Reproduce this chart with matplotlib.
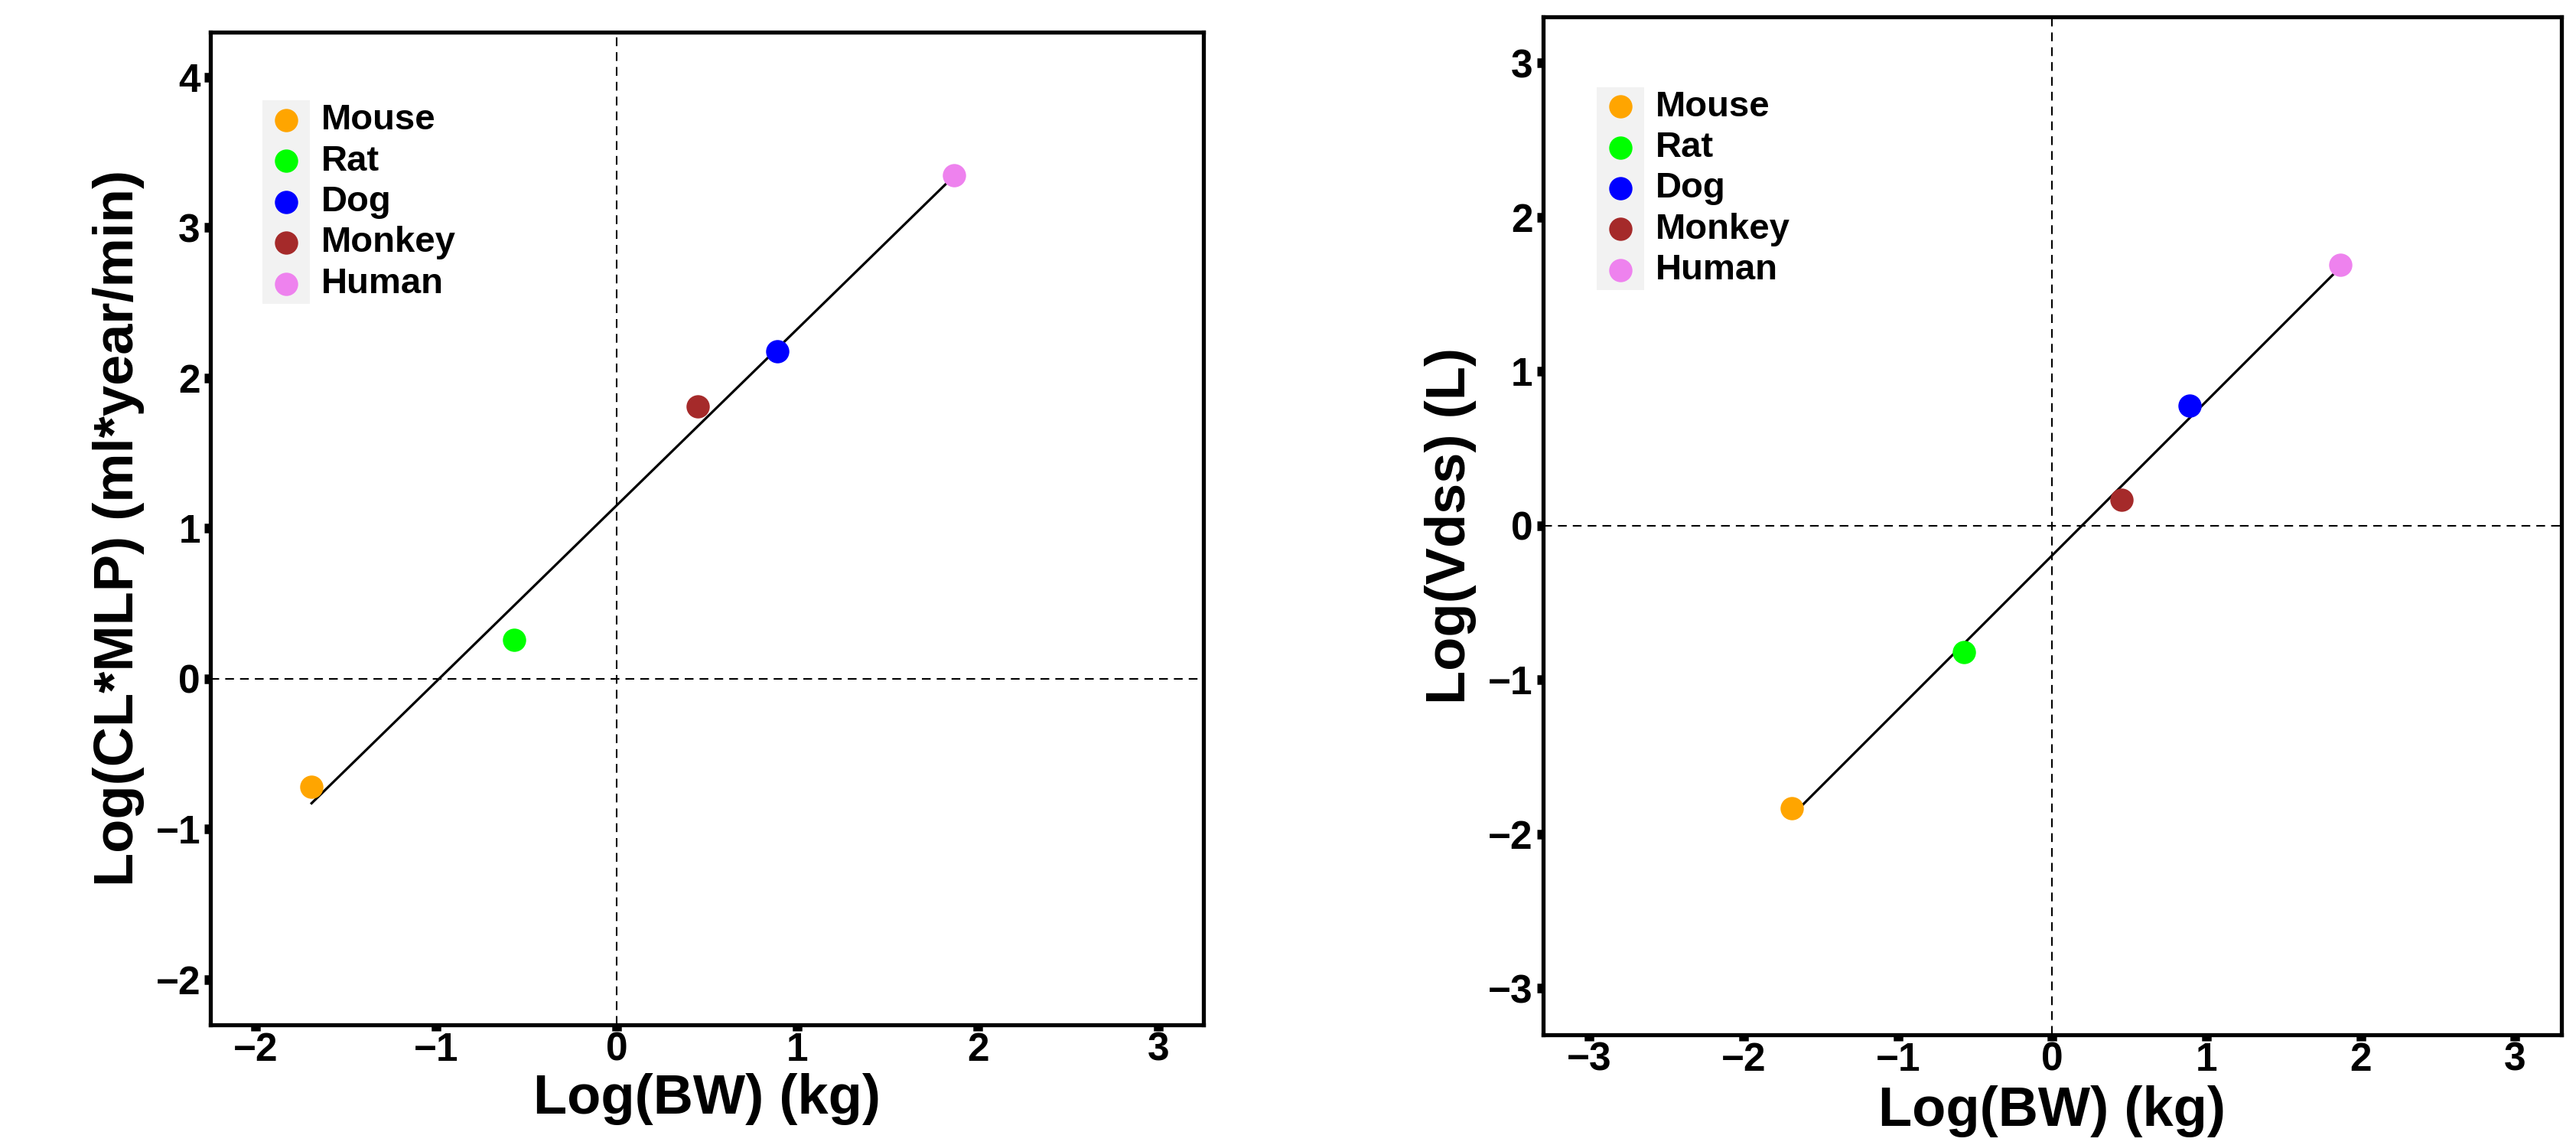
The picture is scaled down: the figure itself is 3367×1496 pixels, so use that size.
import matplotlib
matplotlib.use("Agg")
import matplotlib.pyplot as plt
from matplotlib.patches import Rectangle
import numpy as np

plt.rcParams['font.family'] = ['Liberation Sans', 'DejaVu Sans']
plt.rcParams['font.weight'] = 'bold'

species = ["Mouse", "Rat", "Dog", "Monkey", "Human"]
colors = ["#FFA500", "#00FF00", "#0000FF", "#A52A2A", "#EE82EE"]
log_bw = [-1.69, -0.57, 0.89, 0.45, 1.87]
log_cl_mlp = [-0.72, 0.26, 2.18, 1.81, 3.35]
log_vdss = [-1.83, -0.82, 0.78, 0.17, 1.69]

fig = plt.figure(figsize=(33.67, 14.96), dpi=100)
ax1 = fig.add_axes([0.0817, 0.105, 0.3855, 0.867])
ax2 = fig.add_axes([0.599, 0.0963, 0.3953, 0.889])

leg_fs = 34
hlen = 1.15


def panel(ax, y, ylabel, xlim, ylim, xticks, yticks, ylab_x):
    ax.axhline(0, color="black", lw=1.5, ls=(0, (5.5, 3.8)), zorder=1)
    ax.axvline(0, color="black", lw=1.5, ls=(0, (5.5, 3.8)), zorder=1)
    # linear fit across the observed range
    k, b = np.polyfit(log_bw, y, 1)
    xs = np.array([min(log_bw), max(log_bw)])
    ax.plot(xs, k * xs + b, color="black", lw=2.3, zorder=2)
    for name, c, xv, yv in zip(species, colors, log_bw, y):
        ax.scatter([xv], [yv], s=480, color=c, label=name, zorder=3, linewidths=0)
    ax.set_xlim(xlim)
    ax.set_ylim(ylim)
    ax.set_xticks(xticks)
    ax.set_yticks(yticks)
    for s in ax.spines.values():
        s.set_linewidth(3.8)
    ax.tick_params(width=9, length=5.5, labelsize=37, pad=4)
    ax.tick_params(axis="x", pad=1)
    for lab in ax.get_xticklabels() + ax.get_yticklabels():
        lab.set_fontweight("bold")
    ax.set_xlabel("Log(BW) (kg)", fontsize=52, fontweight="bold", va="center")
    ax.xaxis.set_label_coords(0.5, -0.075)
    ax.set_ylabel(ylabel, fontsize=52, fontweight="bold", va="center")
    ax.yaxis.set_label_coords(ylab_x, 0.5)
    leg = ax.legend(loc="upper left", bbox_to_anchor=(0.0525, 0.931),
                    frameon=False, fontsize=leg_fs, borderpad=0.08,
                    borderaxespad=0, handlelength=hlen, handletextpad=0.4,
                    labelspacing=0.2, scatterpoints=1, markerscale=1.0,
                    prop={"weight": "bold", "size": leg_fs})
    return leg


leg1 = panel(ax1, log_cl_mlp, "Log(CL*MLP) (ml*year/min)", (-2.25, 3.25), (-2.3, 4.3),
             [-2, -1, 0, 1, 2, 3], [-2, -1, 0, 1, 2, 3, 4], -0.0925)
leg2 = panel(ax2, log_vdss, "Log(Vdss) (L)", (-3.3, 3.3), (-3.3, 3.3),
             [-3, -2, -1, 0, 1, 2, 3], [-3, -2, -1, 0, 1, 2, 3], -0.091)

# grey key background behind legend symbols
fig.canvas.draw()
renderer = fig.canvas.get_renderer()
for ax, leg in [(ax1, leg1), (ax2, leg2)]:
    bb = leg.get_window_extent(renderer)
    inv = ax.transAxes.inverted()
    pad = 0.08 * leg_fs * fig.dpi / 72
    x0, y0 = inv.transform((bb.x0, bb.y0))
    x1, y1 = inv.transform((bb.x0 + hlen * leg_fs * fig.dpi / 72 + 2 * pad, bb.y1))
    ax.add_patch(Rectangle((x0, y0), x1 - x0, y1 - y0, transform=ax.transAxes,
                           facecolor="#F2F2F2", edgecolor="none", zorder=4))

fig.savefig("out.png", dpi=100)
